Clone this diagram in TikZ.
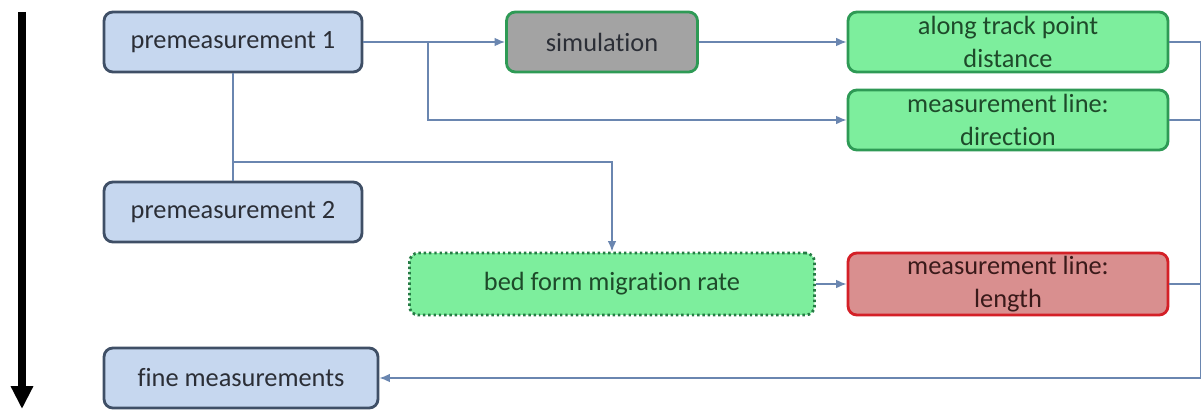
\documentclass[tikz,border=0pt]{standalone}
\usepackage{fontspec}
\setmainfont{Carlito}[Ligatures=NoCommon]
\usetikzlibrary{arrows.meta}
\definecolor{premeasfill}{HTML}{C6D7EF}
\definecolor{premeasdraw}{HTML}{3F4F66}
\definecolor{premeastext}{HTML}{2B2E36}
\definecolor{goodfill}{HTML}{7DEE9D}
\definecolor{gooddraw}{HTML}{2E9A55}
\definecolor{goodtext}{HTML}{1E4A2A}
\definecolor{simfill}{HTML}{A3A3A3}
\definecolor{badfill}{HTML}{D98F8F}
\definecolor{baddraw}{HTML}{D42027}
\definecolor{badtext}{HTML}{3A1A1A}
\definecolor{connline}{HTML}{6A86B0}
\tikzset{
  >={Latex[length=6pt,width=5pt]},
}
\tikzstyle{box}=[rounded corners=5pt,line width=1.6pt,inner xsep=4pt,inner ysep=0pt,
  minimum height=1.2cm,align=center,font=\fontsize{15}{19}\selectfont]
\tikzstyle{premeas}=[box,draw=premeasdraw,fill=premeasfill,text=premeastext]
\tikzstyle{result}=[box,draw=gooddraw,fill=goodfill,text=goodtext,minimum width=6.4cm]
\tikzstyle{conn}=[line width=1pt,draw=connline]
\tikzstyle{timeline}=[line width=4pt,-{Triangle[width=12pt,length=13pt]}]

\begin{document}
\begin{tikzpicture}[x=0.02cm,y=-0.02cm]
    \useasboundingbox (0,0) rectangle (1202,412);
    % time axis
    \coordinate (t0) at (22,12);
    \coordinate (t1) at (22,409);
    \draw[timeline] (t0)--(t1);
    % boxes
    \node[premeas,minimum width=5.16cm] (pm1) at (233,42) {premeasurement 1};
    \node[premeas,minimum width=5.16cm] (pm2) at (233,212) {premeasurement 2};
    \node[premeas,minimum width=5.48cm] (fine) at (241,378) {fine measurements};
    \node[box,draw=gooddraw,fill=simfill,text=premeastext,minimum width=3.82cm] (sim) at (602,42) {simulation};
    \node[result] (atd) at (1008,42) {along track point\\distance};
    \node[result] (dir) at (1008,120) {measurement line:\\direction};
    \node[box,draw=gooddraw!80!black,fill=goodfill,text=goodtext,dash pattern=on 1.4pt off 1.6pt,
      minimum width=8.1cm,minimum height=1.24cm] (bed) at (612,284) {bed form migration rate};
    \node[box,draw=baddraw,fill=badfill,text=badtext,minimum width=6.4cm,minimum height=1.24cm] (len) at (1008,284) {measurement line:\\length};
    % connectors
    \coordinate (br1) at (428,42);
    \coordinate (br2) at (233,162);
    \coordinate (rc) at (1200.5,378);
    \draw[conn,->] (pm1)--(sim);
    \draw[conn,->] (br1) |- (dir);
    \draw[conn,->] (sim)--(atd);
    \draw[conn] (pm1)--(pm2);
    \draw[conn,->] (br2) -| (bed);
    \draw[conn,->] (bed)--(len);
    \draw[conn] (atd) -| (rc);
    \draw[conn] (dir) -| (rc);
    \draw[conn] (len) -| (rc);
    \draw[conn,->] (rc)--(fine);
\end{tikzpicture}
\end{document}
